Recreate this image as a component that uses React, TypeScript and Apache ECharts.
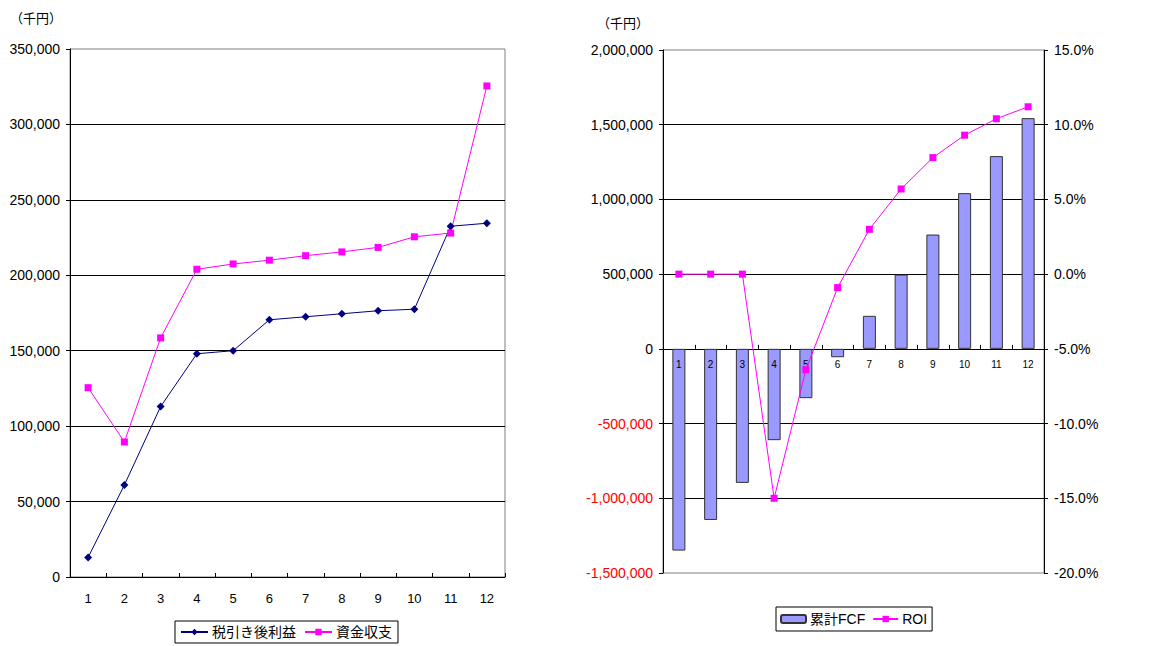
import React, { useEffect, useRef } from "react";
import * as echarts from "echarts";

const categories = ["1", "2", "3", "4", "5", "6", "7", "8", "9", "10", "11", "12"];
const afterTaxProfit = [13000, 61000, 113000, 148000, 150000, 170500, 172500, 174500, 176500, 177500, 232500, 234500];
const cashBalance = [125500, 89500, 158500, 204000, 207500, 210000, 213000, 215500, 218500, 225500, 228000, 325500];
const cumulativeFcf = [-1350000, -1145000, -897000, -611000, -330000, -56000, 221000, 497000, 765000, 1042000, 1290000, 1544000];
const roi = [0, 0, 0, -15.0, -6.4, -0.9, 3.0, 5.7, 7.8, 9.3, 10.4, 11.2];

const FONT = '"Liberation Sans", Arial, "Noto Sans CJK JP", sans-serif';
const fmt = (v: number) => v.toLocaleString("en-US");

export default function App() {
  const ref = useRef<HTMLDivElement>(null);
  useEffect(() => {
    if (!ref.current) return;
    const chart = echarts.init(ref.current, undefined, { renderer: "svg" });
    chart.setOption({
      animation: false,
      backgroundColor: "#ffffff",
      textStyle: { fontFamily: FONT, color: "#000" },
      graphic: [
        { type: "text", left: 10, top: 12, style: { text: "（千円）", fontSize: 13, fontFamily: FONT, fill: "#000" } },
        { type: "text", left: 597, top: 17, style: { text: "（千円）", fontSize: 13, fontFamily: FONT, fill: "#000" } },
      ],
      grid: [
        { left: 70, top: 49, width: 435, height: 528, show: true, borderColor: "#808080", borderWidth: 1, backgroundColor: "transparent" },
        { left: 663, top: 50, width: 381, height: 523, show: true, borderColor: "#808080", borderWidth: 1, backgroundColor: "transparent" },
      ],
      legend: [
        {
          left: 175, top: 621,
          data: [
            { name: "税引き後利益" },
            { name: "資金収支" },
          ],
          borderColor: "#000", borderWidth: 1, padding: [4, 6, 4, 5],
          itemWidth: 27, itemHeight: 8, itemGap: 8,
          textStyle: { fontSize: 14, fontFamily: FONT, color: "#000", padding: [0, 0, 0, -1] },
        },
        {
          left: 776, top: 607,
          data: [
            { name: "累計FCF" },
            { name: "ROI" },
          ],
          borderColor: "#000", borderWidth: 1, padding: [5, 5, 5, 4],
          itemWidth: 25, itemHeight: 8, itemGap: 7,
          textStyle: { fontSize: 14, fontFamily: FONT, color: "#000", padding: [0, 0, 0, -1] },
        },
      ],
      xAxis: [
        {
          type: "category", gridIndex: 0, data: categories, boundaryGap: true,
          axisLine: { lineStyle: { color: "#000", width: 1 } },
          axisTick: { show: true, inside: true, length: 4, lineStyle: { color: "#000" } },
          axisLabel: { fontSize: 13, color: "#000", margin: 15, fontFamily: FONT },
        },
        {
          type: "category", gridIndex: 1, data: categories, boundaryGap: true,
          axisLine: { onZero: true, onZeroAxisIndex: 1, lineStyle: { color: "#000", width: 1 } },
          axisTick: { show: true, inside: true, length: 4, lineStyle: { color: "#000" } },
          axisLabel: { show: false },
        },
        {
          type: "category", gridIndex: 1, data: categories, boundaryGap: true,
          position: "bottom", offset: -224, z: 3,
          axisLine: { show: false, onZero: false },
          axisTick: { show: false },
          axisLabel: { fontSize: 10, color: "#000", margin: 10, fontFamily: FONT },
        },
      ],
      yAxis: [
        {
          type: "value", gridIndex: 0, min: 0, max: 350000, interval: 50000,
          axisLine: { show: true, lineStyle: { color: "#000" } },
          axisTick: { show: true, length: 4, lineStyle: { color: "#000" } },
          axisLabel: { fontSize: 14, color: "#000", margin: 10, formatter: (v: number) => fmt(v), fontFamily: FONT },
          splitLine: { show: true, showMaxLine: false, showMinLine: false, lineStyle: { color: "#000", width: 1 } },
        },
        {
          type: "value", gridIndex: 1, min: -1500000, max: 2000000, interval: 500000,
          axisLine: { show: true, onZero: false, lineStyle: { color: "#000" } },
          axisTick: { show: true, length: 4, lineStyle: { color: "#000" } },
          axisLabel: {
            fontSize: 14, margin: 10, fontFamily: FONT,
            formatter: (v: number) => fmt(v),
            color: (v: any) => (Number(v) < 0 ? "#FF0000" : "#000000"),
          },
          splitLine: { show: true, showMaxLine: false, showMinLine: false, lineStyle: { color: "#000", width: 1 } },
        },
        {
          type: "value", gridIndex: 1, position: "right", min: -20, max: 15, interval: 5,
          axisLine: { show: true, onZero: false, lineStyle: { color: "#000" } },
          axisTick: { show: true, length: 4, lineStyle: { color: "#000" } },
          axisLabel: { fontSize: 14, color: "#000", margin: 10, formatter: (v: number) => v.toFixed(1) + "%", fontFamily: FONT },
          splitLine: { show: false },
        },
      ],
      series: [
        {
          name: "税引き後利益", type: "line", xAxisIndex: 0, yAxisIndex: 0, data: afterTaxProfit,
          symbol: "diamond", symbolSize: 8,
          lineStyle: { color: "#000080", width: 1 }, itemStyle: { color: "#000080" },
        },
        {
          name: "資金収支", type: "line", xAxisIndex: 0, yAxisIndex: 0, data: cashBalance,
          symbol: "rect", symbolSize: 7,
          lineStyle: { color: "#FF00FF", width: 1 }, itemStyle: { color: "#FF00FF" },
        },
        {
          name: "累計FCF", type: "bar", xAxisIndex: 1, yAxisIndex: 1, data: cumulativeFcf,
          barWidth: 13, z: 2,
          itemStyle: { color: "#9999FF", borderColor: "#333333", borderWidth: 1 },
        },
        {
          name: "ROI", type: "line", xAxisIndex: 1, yAxisIndex: 2, data: roi,
          symbol: "rect", symbolSize: 7, z: 4,
          lineStyle: { color: "#FF00FF", width: 1 }, itemStyle: { color: "#FF00FF" },
        },
      ],
    });
    return () => chart.dispose();
  }, []);
  return (
    <div
      ref={ref}
      style={{ position: "absolute", left: 0, top: 0, width: 1157, height: 646, background: "#fff" }}
    />
  );
}
